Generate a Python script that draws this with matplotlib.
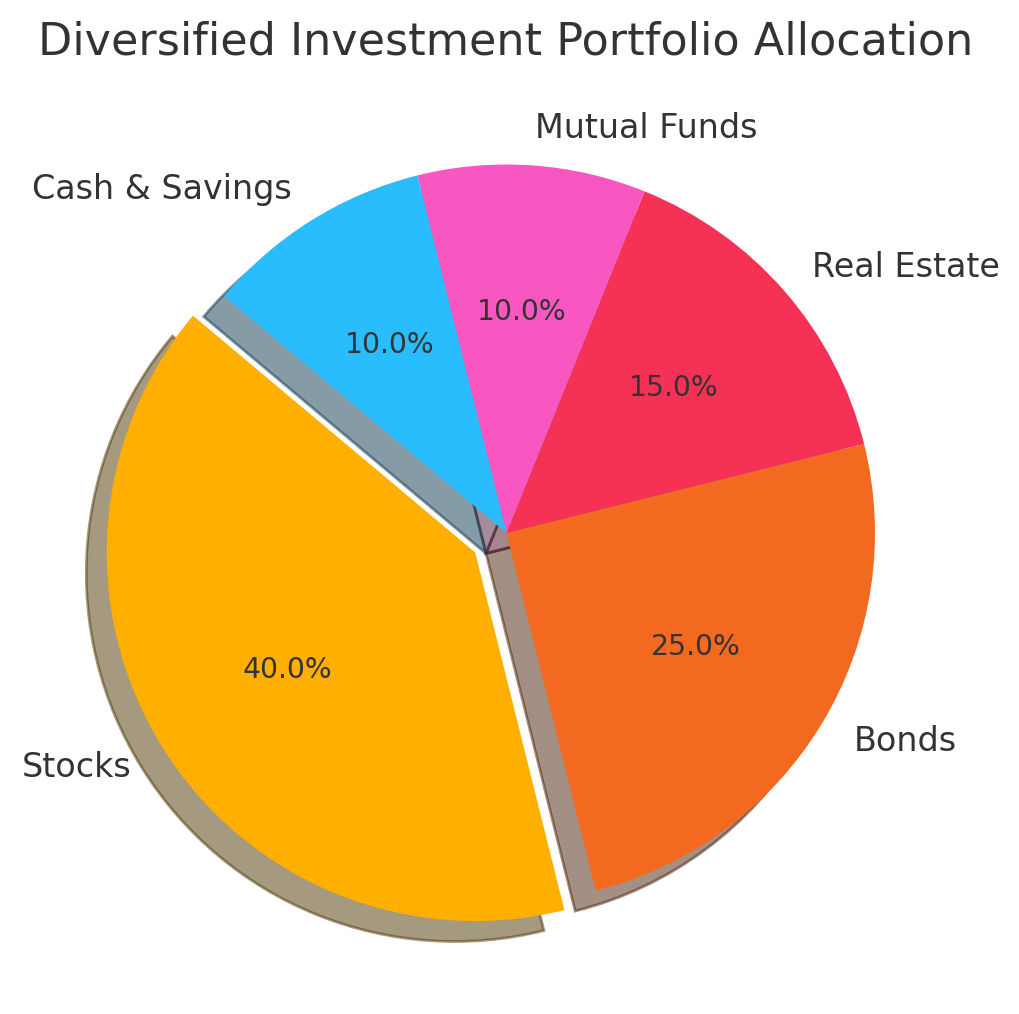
import matplotlib
matplotlib.use("Agg")
import matplotlib.pyplot as plt

categories = ["Stocks", "Bonds", "Real Estate", "Mutual Funds", "Cash & Savings"]
shares = [40, 25, 15, 10, 10]
colors = ["#FFAF00", "#F46920", "#F53255", "#F857C1", "#29BDFD"]
explode = [0.1, 0, 0, 0, 0]

plt.rcParams['font.family'] = ['DejaVu Sans']
plt.rcParams['text.color'] = '#333333'

W, H = 1020, 1014
fig = plt.figure(figsize=(W / 200, H / 200), dpi=200)
cx, cy, r = 506.5, 533, 368.5
half = 1.25 * r
ax = fig.add_axes([(cx - half) / W, (H - cy - half) / H, 2 * half / W, 2 * half / H])

wedges, texts, autotexts = ax.pie(
    shares, labels=categories, colors=colors, explode=explode,
    autopct='%1.1f%%', startangle=140, shadow=True,
    textprops={'color': '#333333', 'fontsize': 12})
for t in autotexts:
    t.set_fontsize(10.2)
ax.set_aspect('equal')

fig.text(0.5 - 4 / W, 1 - 42 / H, "Diversified Investment Portfolio Allocation",
         ha='center', va='center', fontsize=16, color='#333333')

fig.savefig("out.png", dpi=200)
